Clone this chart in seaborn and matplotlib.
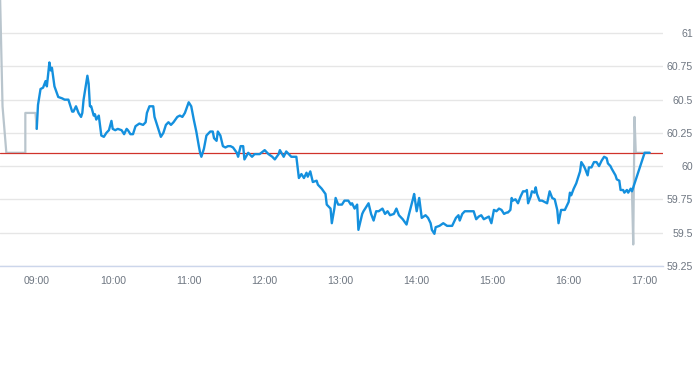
# Intraday price chart (one trading session) with previous close line

import pandas as pd
import matplotlib
matplotlib.use('Agg')
import matplotlib.pyplot as plt
import matplotlib.dates as mdates
import seaborn as sns

sns.set_style('white')
plt.rcParams['font.family'] = ['Liberation Sans', 'DejaVu Sans']

# minutes after 09:00 and price
blue_min = [0, 1, 3, 5, 7, 8, 10, 11, 12, 14, 17, 20, 22, 25, 26, 28, 29, 31, 33, 35,
            36, 37, 40, 41, 42, 43, 45, 46, 47, 49, 51, 53, 55, 57, 59, 60, 62, 64, 67, 69,
            71, 72, 74, 76, 78, 81, 84, 86, 87, 89, 92, 93, 95, 98, 100, 102, 104, 106, 108, 111,
            113, 115, 117, 120, 122, 124, 126, 128, 129, 130, 132, 134, 137, 139, 140, 142, 143, 145, 147, 149,
            151, 153, 155, 158, 159, 161, 163, 164, 167, 170, 172, 176, 180, 183, 186, 188, 191, 192, 195, 197,
            199, 201, 205, 207, 209, 211, 213, 214, 216, 218, 221, 222, 225, 228, 229, 232, 233, 235, 236, 238,
            241, 243, 246, 248, 249, 251, 253, 254, 257, 258, 260, 262, 264, 266, 268, 270, 273, 275, 277, 279,
            282, 284, 286, 289, 292, 294, 297, 298, 300, 302, 304, 307, 309, 311, 312, 314, 315, 318, 321, 324,
            328, 329, 331, 333, 334, 336, 338, 341, 345, 347, 349, 351, 353, 355, 357, 359, 361, 363, 365, 367,
            369, 371, 372, 374, 375, 376, 378, 380, 382, 384, 386, 387, 388, 390, 391, 393, 394, 395, 397, 399,
            401, 403, 405, 407, 409, 411, 412, 413, 414, 417, 418, 420, 421, 422, 424, 426, 427, 429, 430, 432,
            433, 435, 436, 438, 440, 442, 444, 446, 448, 450, 451, 453, 454, 457, 458, 460, 461, 463, 464, 466,
            467, 469, 470, 480, 484]
blue_price = [60.28, 60.46, 60.58, 60.59, 60.64, 60.60, 60.78, 60.72, 60.74, 60.60, 60.52, 60.51, 60.50, 60.50, 60.47, 60.41, 60.41, 60.45, 60.40, 60.37,
              60.40, 60.50, 60.68, 60.62, 60.45, 60.45, 60.38, 60.39, 60.35, 60.38, 60.23, 60.22, 60.25, 60.27, 60.34, 60.28, 60.27, 60.28, 60.27, 60.24,
              60.28, 60.27, 60.24, 60.24, 60.30, 60.32, 60.31, 60.33, 60.40, 60.45, 60.45, 60.37, 60.31, 60.22, 60.25, 60.31, 60.33, 60.31, 60.33, 60.37,
              60.38, 60.37, 60.40, 60.48, 60.45, 60.35, 60.26, 60.15, 60.10, 60.07, 60.13, 60.23, 60.26, 60.26, 60.21, 60.19, 60.26, 60.23, 60.15, 60.14,
              60.15, 60.15, 60.14, 60.10, 60.07, 60.15, 60.15, 60.05, 60.10, 60.07, 60.09, 60.09, 60.12, 60.09, 60.07, 60.05, 60.09, 60.12, 60.07, 60.11,
              60.09, 60.07, 60.07, 59.91, 59.94, 59.91, 59.95, 59.92, 59.96, 59.88, 59.89, 59.86, 59.83, 59.79, 59.71, 59.68, 59.57, 59.68, 59.76, 59.71,
              59.71, 59.74, 59.74, 59.71, 59.72, 59.68, 59.71, 59.52, 59.64, 59.66, 59.69, 59.72, 59.64, 59.59, 59.66, 59.66, 59.68, 59.64, 59.66, 59.63,
              59.64, 59.68, 59.63, 59.60, 59.56, 59.64, 59.75, 59.79, 59.66, 59.76, 59.61, 59.63, 59.61, 59.57, 59.52, 59.49, 59.54, 59.55, 59.57, 59.55,
              59.55, 59.57, 59.61, 59.63, 59.59, 59.64, 59.66, 59.66, 59.66, 59.60, 59.62, 59.63, 59.60, 59.61, 59.62, 59.57, 59.67, 59.66, 59.68, 59.67,
              59.64, 59.65, 59.65, 59.67, 59.76, 59.74, 59.75, 59.72, 59.77, 59.81, 59.81, 59.82, 59.72, 59.77, 59.81, 59.80, 59.84, 59.79, 59.74, 59.74,
              59.73, 59.72, 59.81, 59.76, 59.75, 59.67, 59.57, 59.62, 59.67, 59.67, 59.69, 59.73, 59.80, 59.78, 59.83, 59.87, 59.90, 59.96, 60.03, 60.00,
              59.98, 59.93, 59.99, 59.99, 60.03, 60.03, 60.00, 60.04, 60.07, 60.06, 60.02, 60.00, 59.98, 59.93, 59.90, 59.89, 59.82, 59.82, 59.80, 59.82,
              59.80, 59.83, 59.81, 60.10, 60.10]

# pre-market and after-hours (grey)
pre_min = [-29, -27, -24, -9, -9, -1, 0]
pre_price = [61.30, 60.45, 60.10, 60.10, 60.40, 60.40, 60.28]
post_min = [470, 471, 472, 473, 484]
post_price = [59.81, 59.41, 60.37, 60.10, 60.10]

prev_close = 60.10
ytick_vals = [59.25, 59.5, 59.75, 60, 60.25, 60.5, 60.75, 61]
ytick_labels = ['59.25', '59.5', '59.75', '60', '60.25', '60.5', '60.75', '61']

base = pd.Timestamp('2024-01-02 09:00')
to_time = lambda m: base + pd.to_timedelta(m, unit='m')

blue_df = pd.DataFrame({'time': to_time(blue_min), 'price': blue_price})
pre_df = pd.DataFrame({'time': to_time(pre_min), 'price': pre_price})
post_df = pd.DataFrame({'time': to_time(post_min), 'price': post_price})

fig = plt.figure(figsize=(6.93, 3.65), dpi=100)
ax = fig.add_axes([0, 0.272, 663 / 693, 0.728])

grey = '#b9c5cd'
sns.lineplot(data=pre_df, x='time', y='price', ax=ax, color=grey, lw=1.6,
             sort=False, estimator=None, zorder=2)
sns.lineplot(data=post_df, x='time', y='price', ax=ax, color=grey, lw=1.6,
             sort=False, estimator=None, zorder=2)
sns.lineplot(data=blue_df, x='time', y='price', ax=ax, color='#1490de', lw=1.7,
             sort=False, estimator=None, zorder=3)
ax.axhline(prev_close, color='#d0332b', lw=0.9, zorder=2.5)

ax.set_xlim(to_time(-29), to_time(494.5))
ax.set_ylim(59.25, 61.25)
ax.set_xlabel('')
ax.set_ylabel('')

# y axis on the right, gridlines only
ax.yaxis.tick_right()
ax.set_yticks(ytick_vals)
ax.set_yticklabels(ytick_labels)
ax.grid(axis='y', color='#e6e6e6', lw=1)
ax.grid(axis='x', visible=False)
ax.tick_params(axis='y', length=0, pad=21.5, labelsize=7.6, labelcolor='#6e7681')
for lbl in ax.get_yticklabels():
    lbl.set_horizontalalignment('right')

ax.xaxis.set_major_locator(mdates.HourLocator(byhour=range(9, 18)))
ax.xaxis.set_major_formatter(mdates.DateFormatter('%H:%M'))
ax.tick_params(axis='x', length=3, width=1, color='#ccd6eb', pad=4.3,
               labelsize=7.6, labelcolor='#6e7681')

for side in ['top', 'left', 'right']:
    ax.spines[side].set_visible(False)
ax.spines['bottom'].set_color('#ccd6eb')
ax.spines['bottom'].set_linewidth(1)

fig.savefig('out.png', dpi=100)
